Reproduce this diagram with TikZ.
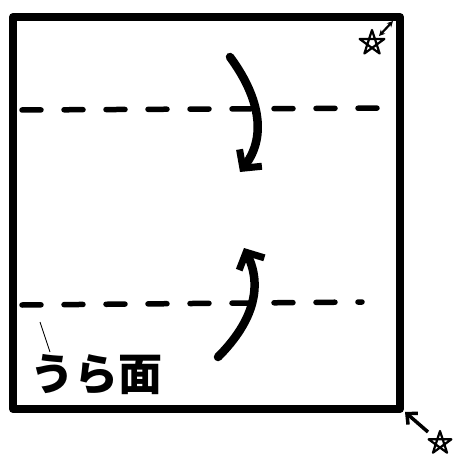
\documentclass[tikz,border=0pt]{standalone}
\usepackage{fontspec}
\newfontfamily\jpfont{Noto Sans CJK JP Black}
\usetikzlibrary{arrows.meta,calc}
\begin{document}
\begin{tikzpicture}[x=1pt,y=-1pt,
  edge/.style={line width=8pt,line join=round,line cap=round},
  fold/.style={line width=5.5pt,line cap=round,dash pattern=on 19pt off 23pt},
  curl/.style={line width=8.5pt,line cap=round,-{Straight Barb[length=13pt,width=28pt,line width=7pt]}},
  thin/.style={line width=2.2pt,line cap=round,line join=round}]
\useasboundingbox (0,0) rectangle (452,457);
\coordinate (tl) at (13,17);
\coordinate (br) at (400,409);
\draw[edge] (tl) rectangle (br);
\coordinate (f1a) at (22,110);
\coordinate (f1b) at (400,108);
\coordinate (f2a) at (22,305);
\coordinate (f2b) at (362,302);
\draw[fold] (f1a) -- (f1b);
\draw[fold] (f2a) -- (f2b);
% down arrow
\coordinate (d1) at (230,57);
\coordinate (d2) at (240,172);
\draw[curl] (d1) .. controls (258,95) and (268,135) .. (d2);
% up arrow
\coordinate (u1) at (218,357);
\coordinate (u2) at (244,248);
\draw[curl] (u1) .. controls (255,320) and (262,285) .. (u2);
% label
\node[anchor=west,inner sep=0pt,font=\jpfont\fontsize{44}{44}\selectfont] (lbl) at (30,375) {うら面};
\coordinate (m1) at (40,322);
\coordinate (m2) at (50,352);
\draw[line width=0.8pt] (m1) -- (m2);
% top star
\coordinate (s1) at (372,43);
\draw[thin] ($(s1)+(-90:13)$) \foreach \k in {1,...,4}{ -- ($(s1)+({-90+144*\k}:13)$)} -- cycle;
\coordinate (a1) at (379,36);
\coordinate (a2) at (393,21);
\draw[thin,{Stealth[length=6pt,width=6pt]}-{Stealth[length=6pt,width=6pt]}] (a1) -- (a2);
% bottom star
\coordinate (s2) at (440,443);
\draw[thin] ($(s2)+(-90:12)$) \foreach \k in {1,...,4}{ -- ($(s2)+({-90+144*\k}:12)$)} -- cycle;
\coordinate (b1) at (428,432);
\coordinate (b2) at (405,412);
\draw[line width=3.5pt,-{Straight Barb[length=8pt,width=15pt,line width=3.5pt]}] (b1) -- (b2);
\end{tikzpicture}
\end{document}
